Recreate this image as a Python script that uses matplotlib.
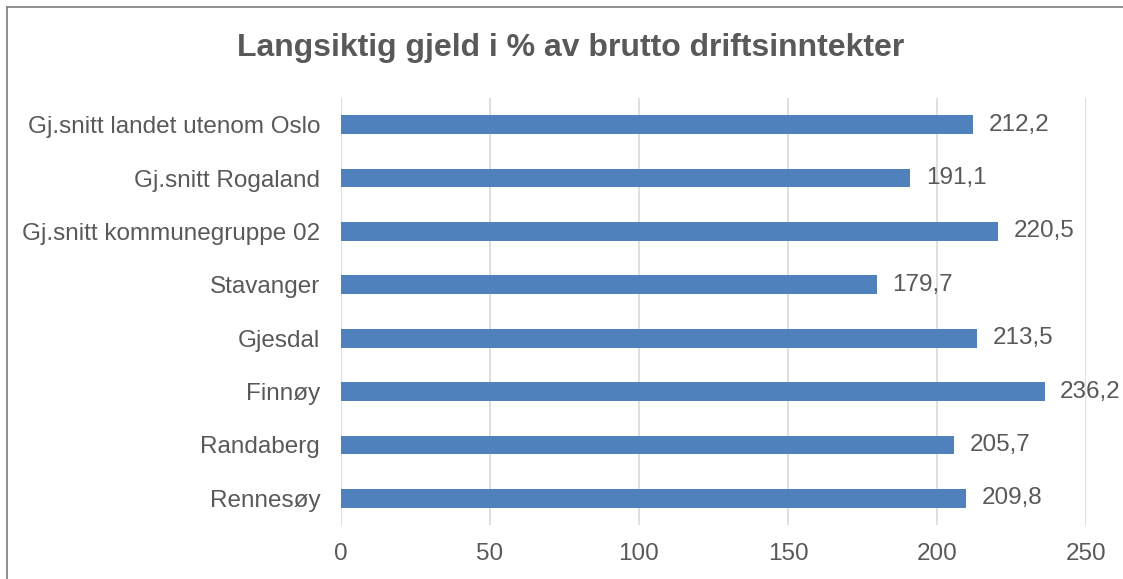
import matplotlib.pyplot as plt
from matplotlib.lines import Line2D

# data, top to bottom as in the chart
categories = ["Gj.snitt landet utenom Oslo", "Gj.snitt Rogaland", "Gj.snitt kommunegruppe 02",
              "Stavanger", "Gjesdal", "Finnøy", "Randaberg", "Rennesøy"]
values = [212.2, 191.1, 220.5, 179.7, 213.5, 236.2, 205.7, 209.8]
xticks = [0, 50, 100, 150, 200, 250]

plt.rcParams['font.family'] = ['Liberation Sans', 'DejaVu Sans']
text_color = '#595959'
bar_color = '#4F81BD'

W, H = 1123, 579
fig = plt.figure(figsize=(W / 100, H / 100), dpi=100)
ax = fig.add_axes([341 / W, 1 - 525 / H, (1086 - 341) / W, (525 - 98) / H])

ypos = list(range(len(categories)))[::-1]
ax.barh(ypos, values, height=0.35, color=bar_color, zorder=3)
for y, v in zip(ypos, values):
    ax.annotate(f"{v:.1f}".replace('.', ','), (v, y), xytext=(11, 0), textcoords='offset points',
                va='center', ha='left', fontsize=17.5, color=text_color)

ax.set_xlim(0, 250)
ax.set_ylim(-0.5, len(categories) - 0.5)
ax.set_xticks(xticks)
ax.set_yticks(ypos)
ax.set_yticklabels(categories)
ax.tick_params(axis='both', length=0, labelsize=17.5, labelcolor=text_color)
ax.tick_params(axis='x', pad=13)
ax.tick_params(axis='y', pad=15)
ax.grid(axis='x', color='#D9D9D9', linewidth=1.2, zorder=0)
for s in ax.spines.values():
    s.set_visible(False)

fig.text(571 / W, 1 - 48 / H, "Langsiktig gjeld i % av brutto driftsinntekter",
         ha='center', va='center', fontsize=23, fontweight='bold', color=text_color)

# outer border (top and left edges visible)
fig.add_artist(Line2D([7 / W, 1], [1 - 7 / H, 1 - 7 / H], transform=fig.transFigure, color='#868686', lw=1.3))
fig.add_artist(Line2D([7 / W, 7 / W], [0, 1 - 7 / H], transform=fig.transFigure, color='#868686', lw=1.3))

fig.savefig('out.png', dpi=100)
